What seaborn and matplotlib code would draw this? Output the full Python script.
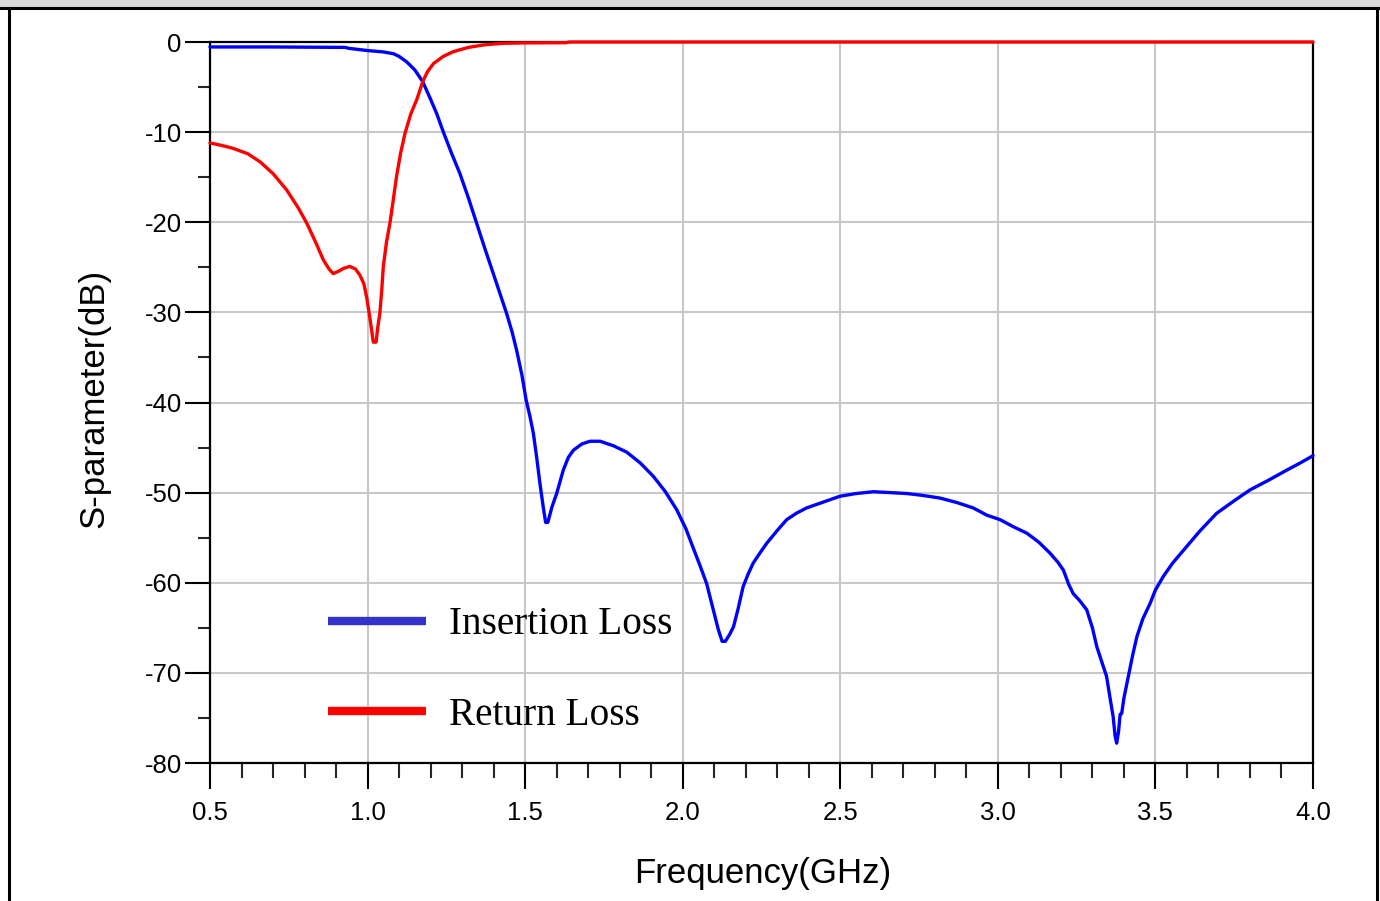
import numpy as np
import pandas as pd
import matplotlib
matplotlib.use("Agg")
import matplotlib.pyplot as plt
import seaborn as sns
from matplotlib.lines import Line2D
from matplotlib.patches import Rectangle
from matplotlib.ticker import MultipleLocator, FormatStrFormatter

# ---------------- data ----------------
freq_il = [0.50, 0.70, 0.93, 0.94, 1.00, 1.05, 1.082, 1.10, 1.124, 1.15, 1.175, 1.198, 1.22, 1.240,
           1.266, 1.293, 1.32, 1.346, 1.372, 1.399, 1.42, 1.441, 1.458, 1.473, 1.49, 1.503, 1.515,
           1.526, 1.537, 1.547, 1.557, 1.565, 1.572, 1.585, 1.600, 1.621, 1.637, 1.653, 1.68, 1.706,
           1.738, 1.78, 1.822, 1.865, 1.907, 1.945, 1.981, 2.01, 2.034, 2.056, 2.076, 2.097, 2.113,
           2.125, 2.135, 2.148, 2.161, 2.175, 2.192, 2.208, 2.224, 2.245, 2.267, 2.30, 2.330, 2.36,
           2.393, 2.45, 2.499, 2.55, 2.605, 2.66, 2.711, 2.76, 2.816, 2.87, 2.922, 2.965, 3.007, 3.05,
           3.092, 3.13, 3.165, 3.19, 3.208, 3.225, 3.239, 3.26, 3.282, 3.30, 3.314, 3.33, 3.345, 3.357,
           3.366, 3.372, 3.377, 3.383, 3.388, 3.393, 3.40, 3.414, 3.428, 3.441, 3.46, 3.483, 3.50,
           3.525, 3.555, 3.589, 3.64, 3.694, 3.75, 3.800, 3.86, 3.917, 3.96, 4.0]
insertion_loss = [-0.55, -0.55, -0.6, -0.7, -0.95, -1.1, -1.3, -1.6, -2.2, -3.1, -4.4, -6.2, -8.0, -9.95,
                  -12.3, -14.6, -17.3, -20.1, -22.9, -25.7, -27.9, -30.1, -32.1, -34.2, -37.0, -39.7, -41.5,
                  -43.4, -46.2, -49.0, -51.5, -53.3, -53.3, -51.6, -50.1, -47.5, -46.1, -45.3, -44.6, -44.3,
                  -44.3, -44.8, -45.5, -46.7, -48.2, -49.9, -51.9, -54.0, -56.2, -58.2, -60.1, -63.0, -65.2,
                  -66.5, -66.5, -65.8, -64.9, -63.0, -60.4, -59.0, -57.8, -56.7, -55.6, -54.2, -53.0, -52.3,
                  -51.7, -51.0, -50.4, -50.1, -49.9, -50.0, -50.1, -50.3, -50.6, -51.1, -51.7, -52.5, -53.0, -53.8,
                  -54.5, -55.5, -56.7, -57.7, -58.6, -60.2, -61.2, -62.0, -63.0, -65.0, -67.1, -68.8, -70.4, -73.0,
                  -74.9, -77.0, -77.8, -76.5, -74.6, -74.5, -72.8, -70.4, -68.0, -66.0, -64.0, -62.3, -60.8,
                  -59.3, -57.8, -56.4, -54.3, -52.3, -50.9, -49.7, -48.6, -47.5, -46.7, -45.9]

freq_rl = [0.50, 0.54, 0.573, 0.62, 0.659, 0.70, 0.743, 0.78, 0.807, 0.835, 0.860, 0.878, 0.891, 0.91,
           0.925, 0.944, 0.962, 0.976, 0.988, 0.997, 1.006, 1.013, 1.018, 1.027, 1.033, 1.039, 1.045,
           1.050, 1.060, 1.071, 1.082, 1.092, 1.105, 1.119, 1.137, 1.156, 1.175, 1.19, 1.209, 1.24,
           1.272, 1.32, 1.367, 1.426, 1.50, 1.63, 1.64, 2.0, 2.5, 3.0, 3.5, 4.0]
return_loss = [-11.2, -11.5, -11.8, -12.4, -13.3, -14.6, -16.4, -18.4, -20.1, -22.2, -24.2, -25.2, -25.7, -25.4,
               -25.1, -24.9, -25.2, -25.9, -26.8, -28.3, -30.3, -32.0, -33.3, -33.3, -31.5, -30.1, -27.5,
               -24.9, -22.2, -20.1, -17.4, -14.9, -12.3, -10.1, -8.0, -6.4, -4.4, -3.3, -2.4, -1.6,
               -1.07, -0.6, -0.33, -0.15, -0.1, -0.08, 0.0, 0.0, 0.0, 0.0, 0.0, 0.0]

series_names = ["Insertion Loss", "Return Loss"]
x_ticks = [0.5, 1.0, 1.5, 2.0, 2.5, 3.0, 3.5, 4.0]
y_ticks = [0, -10, -20, -30, -40, -50, -60, -70, -80]

df = pd.concat([
    pd.DataFrame({"freq": freq_il, "db": insertion_loss, "series": series_names[0]}),
    pd.DataFrame({"freq": freq_rl, "db": return_loss, "series": series_names[1]}),
], ignore_index=True)

# ---------------- style ----------------
sns.set_theme(style="white")
plt.rcParams["font.family"] = ["Liberation Sans", "DejaVu Sans"]
plt.rcParams["axes.unicode_minus"] = False
plt.rcParams["text.color"] = "black"

W, H = 1380, 901
fig = plt.figure(figsize=(W / 100, H / 100), dpi=100)
fig.patch.set_facecolor("white")
ax = fig.add_axes([210 / W, 138 / H, 1103 / W, 721 / H])

sns.lineplot(data=df, x="freq", y="db", hue="series", hue_order=series_names,
             palette={"Insertion Loss": "#0000ff", "Return Loss": "#ff0000"},
             estimator=None, sort=False, linewidth=2.4, legend=False, ax=ax)
for ln in ax.lines:
    ln.set_clip_on(False)
    ln.set_zorder(5)

ax.set_xlim(0.5, 4.0)
ax.set_ylim(-80, 0)
ax.set_xticks(x_ticks)
ax.set_yticks(y_ticks)
ax.xaxis.set_minor_locator(MultipleLocator(0.1))
ax.yaxis.set_minor_locator(MultipleLocator(5))
ax.xaxis.set_major_formatter(FormatStrFormatter("%.1f"))

ax.grid(True, which="major", color="#c8c8c8", linewidth=1.5)
ax.grid(False, which="minor")
ax.set_axisbelow(True)
for sp in ax.spines.values():
    sp.set_visible(True)
    sp.set_color("black")
    sp.set_linewidth(1.6)

ax.tick_params(axis="x", which="major", direction="out", length=19, width=1.5, pad=8,
               labelsize=18.5, colors="black", bottom=True, top=False)
ax.tick_params(axis="x", which="minor", direction="out", length=11, width=1.5, bottom=True, top=False)
ax.tick_params(axis="y", which="major", direction="out", length=18, width=1.5, pad=2.4,
               labelsize=18.5, colors="black", left=True, right=False)
ax.tick_params(axis="y", which="minor", direction="out", length=9, width=1.5, left=True, right=False)

ax.set_xlabel("Frequency(GHz)", fontsize=25, color="black")
ax.xaxis.set_label_coords(0.5015, (763 - 883) / 721)
ax.xaxis.label.set_va("baseline")
ax.set_ylabel("S-parameter(dB)", fontsize=25, color="black")
ax.yaxis.set_label_coords((94 - 210) / 1103, 0.505)
ax.yaxis.label.set_va("center")

handles = [Line2D([], [], color="#3333cc", lw=6.0, solid_capstyle="butt"),
           Line2D([], [], color="#ff0000", lw=6.0, solid_capstyle="butt")]
leg = ax.legend(handles, series_names, loc="center left", bbox_to_anchor=(0.107, 0.129),
                frameon=False, prop={"family": "Liberation Serif", "size": 28.3},
                handlelength=2.5, handletextpad=0.57, labelspacing=1.36,
                borderpad=0, borderaxespad=0)
for t in leg.get_texts():
    t.set_color("black")

# outer frame
fig.patches.append(Rectangle((0, 1 - 7 / H), 1, 7 / H, transform=fig.transFigure,
                             facecolor="#d9d9d9", edgecolor="none"))
fig.add_artist(Line2D([0, 1], [1 - 8 / H, 1 - 8 / H], color="black", lw=2.2, transform=fig.transFigure))
fig.add_artist(Line2D([8.5 / W, 8.5 / W], [0, 1 - 8 / H], color="black", lw=2.2, transform=fig.transFigure))
fig.add_artist(Line2D([1377 / W, 1377 / W], [0, 1 - 8 / H], color="black", lw=2.2, transform=fig.transFigure))

fig.savefig("out.png", dpi=100)
